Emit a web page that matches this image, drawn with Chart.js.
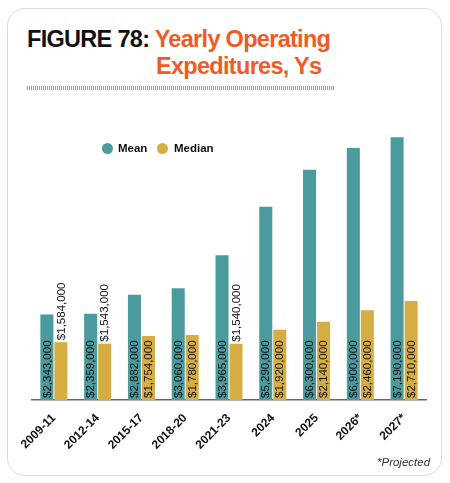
<!DOCTYPE html>
<html>
<head>
<meta charset="utf-8">
<script src="https://cdn.jsdelivr.net/npm/chart.js@4.4.0/dist/chart.umd.min.js"></script>
<style>
  html, body { margin: 0; padding: 0; background: #fff; width: 450px; height: 483px; overflow: hidden; }
  .card { position: absolute; left: 7px; top: 8px; width: 435px; height: 468px; border: 1.5px solid #dcdcdc; border-radius: 18px; box-sizing: border-box; }
  .title { position: absolute; left: 27px; top: 26px; font-family: "Liberation Sans", Arial, sans-serif; font-weight: bold; font-size: 23.5px; line-height: 27px; letter-spacing: -0.7px; color: #111; white-space: nowrap; }
  .title .hi { color: #f15a24; }
  .title .l2 { display: block; padding-left: 129px; color: #f15a24; }
  .rule { position: absolute; left: 27px; top: 86px; width: 308px; height: 4px; background: repeating-linear-gradient(90deg, #999 0 1px, transparent 1px 2px); }
  .legend { position: absolute; top: 141px; left: 102px; font-family: "Liberation Sans", Arial, sans-serif; font-weight: bold; font-size: 11.5px; color: #111; }
  .legend span { position: absolute; white-space: nowrap; top: 0; line-height: 14px; }
  .dot { width: 11px; height: 11px; border-radius: 50%; top: 2px !important; }
  .note { position: absolute; left: 377px; top: 456px; font-family: "Liberation Sans", Arial, sans-serif; font-style: italic; font-size: 11.5px; color: #333; }
  #wrap { position: absolute; left: 0; top: 100px; width: 450px; height: 370px; }
</style>
</head>
<body>
<div class="card"></div>
<div class="title">FIGURE 78: <span class="hi">Yearly Operating</span><span class="l2">Expeditures, Ys</span></div>
<div class="rule"></div>
<div id="wrap"><canvas id="chart"></canvas></div>
<div class="legend" id="legend"></div>
<div class="note">*Projected</div>
<script>
// 数据
const categories = ['2009-11', '2012-14', '2015-17', '2018-20', '2021-23', '2024', '2025', '2026*', '2027*'];
const meanValues = [2343000, 2359000, 2882000, 3060000, 3965000, 5290000, 6300000, 6900000, 7190000];
const medianValues = [1584000, 1543000, 1754000, 1780000, 1540000, 1920000, 2140000, 2460000, 2710000];
const seriesNames = ['Mean', 'Median'];
const seriesColors = ['#4a9a9e', '#d6ad42'];

function money(v) {
  return '$' + v.toLocaleString('en-US');
}

// 柱内竖排数值标签
const barLabels = {
  id: 'barLabels',
  afterDatasetsDraw(chart) {
    const ctx = chart.ctx;
    ctx.save();
    ctx.font = '11.5px "Liberation Sans", Arial, sans-serif';
    ctx.fillStyle = '#111';
    ctx.textBaseline = 'middle';
    ctx.textAlign = 'left';
    chart.data.datasets.forEach((ds, i) => {
      chart.getDatasetMeta(i).data.forEach((bar, j) => {
        const text = money(ds.data[j]);
        const w = ctx.measureText(text).width;
        const h = bar.base - bar.y;
        let start = bar.base - 2;
        if (h < w + 4) start = bar.y - 2;
        ctx.save();
        ctx.translate(bar.x + 0.5, start);
        ctx.rotate(-Math.PI / 2);
        ctx.fillText(text, 0, 0);
        ctx.restore();
      });
    });
    ctx.restore();
  }
};

new Chart(document.getElementById('chart'), {
  type: 'bar',
  data: {
    labels: categories,
    datasets: [
      { label: seriesNames[0], data: meanValues, backgroundColor: seriesColors[0] },
      { label: seriesNames[1], data: medianValues, backgroundColor: seriesColors[1] }
    ]
  },
  options: {
    responsive: true,
    maintainAspectRatio: false,
    animation: false,
    layout: { padding: { left: 32, right: 24, top: 26, bottom: 0 }, autoPadding: false },
    datasets: { bar: { categoryPercentage: 0.64, barPercentage: 0.93 } },
    plugins: { legend: { display: false }, tooltip: { enabled: false } },
    scales: {
      x: {
        grid: { display: false },
        border: { display: true, color: '#666', width: 1.5 },
        afterFit: s => { s.height = 70; },
        ticks: {
          minRotation: 45, maxRotation: 45, padding: 3, color: '#111',
          font: { family: '"Liberation Sans", Arial, sans-serif', weight: 'bold', size: 12 }
        }
      },
      y: { display: false, min: 0, max: 7500000 }
    }
  },
  plugins: [barLabels]
});

// 图例
const legend = document.getElementById('legend');
const legendPos = [[0, 16], [55, 72]];
seriesNames.forEach((name, i) => {
  legend.innerHTML += `<span class="dot" style="left:${legendPos[i][0]}px;background:${seriesColors[i]}"></span>` +
    `<span style="left:${legendPos[i][1]}px">${name}</span>`;
});
</script>
</body>
</html>
